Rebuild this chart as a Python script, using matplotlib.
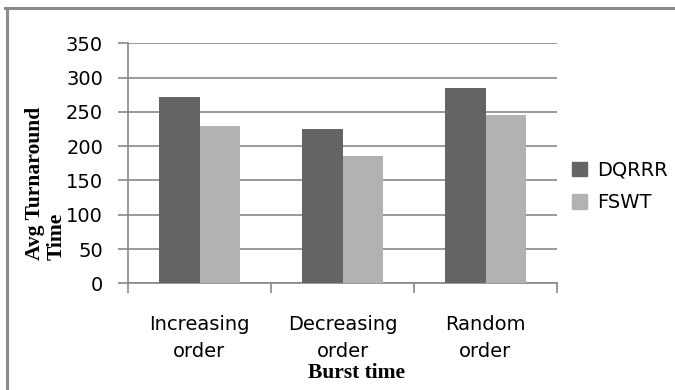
import matplotlib.pyplot as plt
from matplotlib.lines import Line2D
from matplotlib.patches import Patch

categories = ['Increasing\norder', 'Decreasing\norder', 'Random\norder']
dqrrr = [272, 225, 285]
fswt = [230, 185, 245]
yticks = [0, 50, 100, 150, 200, 250, 300, 350]

dark = '#646464'
light = '#b2b2b2'
grid_c = '#878787'
tick_font = 'DejaVu Sans'

fig = plt.figure(figsize=(6.75, 3.9), dpi=100)
ax = fig.add_axes([128 / 675, 1 - 283.3 / 390, 429 / 675, 240 / 390])

# outer frame: only top and left edges show
fig.lines.append(Line2D([6.5 / 675, 6.5 / 675], [0, 1 - 7.5 / 390],
                        transform=fig.transFigure, color='#8a8a8a', linewidth=2.2))
fig.lines.append(Line2D([5.5 / 675, 1], [1 - 7.5 / 390, 1 - 7.5 / 390],
                        transform=fig.transFigure, color='#8a8a8a', linewidth=2.2))

x = range(len(categories))
w = 0.285
ax.bar([i - w / 2 for i in x], dqrrr, width=w, color=dark, label='DQRRR', zorder=3)
ax.bar([i + w / 2 for i in x], fswt, width=w, color=light, label='FSWT', zorder=3)

ax.set_xlim(-0.5, 2.5)
ax.set_ylim(0, 350)
ax.set_yticks(yticks)
ax.yaxis.grid(True, color=grid_c, linewidth=1.2, zorder=0)
ax.set_xticks(list(x))
ax.set_xticks([-0.5, 0.5, 1.5, 2.5], minor=True)
ax.set_xticklabels(categories, fontfamily=tick_font, fontsize=14,
                   linespacing=1.55)
ax.tick_params(axis='x', which='major', length=0, pad=23)
ax.tick_params(axis='x', which='minor', length=7, color=grid_c, width=1.2)
ax.tick_params(axis='y', length=7, color=grid_c, width=1.2, pad=11,
               labelsize=14)
for lab in ax.get_yticklabels():
    lab.set_fontfamily(tick_font)

for s in ['top', 'right']:
    ax.spines[s].set_visible(False)
for s in ['left', 'bottom']:
    ax.spines[s].set_color(grid_c)
    ax.spines[s].set_linewidth(1.2)

fig.text(46 / 675, 1 - 183 / 390, 'Avg Turnaround\nTime', rotation=90,
         ha='center', va='center', multialignment='left',
         fontfamily='Liberation Serif', fontweight='bold', fontsize=15.5,
         linespacing=1.1)
fig.text(356 / 675, 1 - 373 / 390, 'Burst time', ha='center', va='center',
         fontfamily='Liberation Serif', fontweight='bold', fontsize=15.5)

handles = [Patch(color=dark), Patch(color=light)]
fig.legend(handles, ['DQRRR', 'FSWT'], loc='center left',
           bbox_to_anchor=(572 / 675, 1 - 186.5 / 390), frameon=False,
           prop={'family': tick_font, 'size': 14}, borderpad=0,
           borderaxespad=0, handlelength=0.77, handleheight=0.77,
           handletextpad=0.5, labelspacing=0.7)

fig.savefig('out.png', dpi=100)
